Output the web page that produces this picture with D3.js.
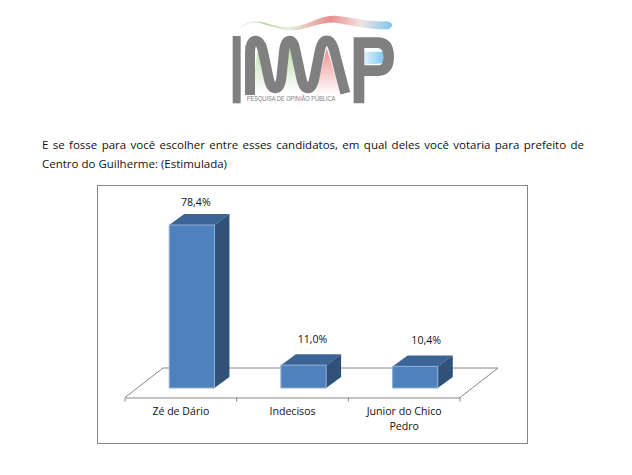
<!DOCTYPE html>
<html lang="pt"><head><meta charset="utf-8">
<script src="https://cdn.jsdelivr.net/npm/d3@7"></script>
<style>html,body{margin:0;padding:0;background:#fff}svg{display:block}</style>
</head><body><div id="c"></div>
<script>
const categories = ["Zé de Dário", "Indecisos", "Junior do Chico Pedro"];
const values = [78.4, 11.0, 10.4];
const valueLabels = ["78,4%", "11,0%", "10,4%"];
const titleLines = ["E se fosse para você escolher entre esses candidatos, em qual deles você votaria para prefeito de", "Centro do Guilherme: (Estimulada)"];
const categoryLines = [["Zé de Dário"], ["Indecisos"], ["Junior do Chico", "Pedro"]];

const W = 632, H = 475;
const svg = d3.select("#c").append("svg").attr("width", W).attr("height", H);
const FONT = "'Open Sans','Noto Sans',sans-serif";
const defs = svg.append("defs");
function grad(id, stops, x1=0,y1=0,x2=1,y2=0){
  const g = defs.append("linearGradient").attr("id",id).attr("x1",x1).attr("y1",y1).attr("x2",x2).attr("y2",y2);
  stops.forEach(s=>g.append("stop").attr("offset",s[0]).attr("stop-color",s[1]).attr("stop-opacity",s[2]===undefined?1:s[2]));
}
grad("sw",[[0,"#cfe5c0",0.2],[0.18,"#b5d8a0"],[0.33,"#e8efe2"],[0.6,"#e88f8c"],[0.8,"#f0e4e2"],[1,"#7fc6ec"]]);
grad("gg",[[0,"#b9dca6"],[1,"#ffffff"]],0,0,0,1);
grad("rr",[[0,"#ec8f8c"],[1,"#ffffff"]],0,0,0,1);
grad("bb",[[0,"#ffffff"],[1,"#7fc8f0"]]);

// logo (drawn in zoomed-crop units)
const logo = svg.append("g").attr("transform","translate(210,0) scale(0.3333)");
logo.append("path").attr("d","M82 92 C100 66 135 60 165 68 C205 80 240 88 285 72 C315 60 345 46 375 47 C420 50 470 66 530 64 Q548 66 546 78 Q540 90 525 88 C470 88 420 74 375 68 C335 66 300 84 265 90 C220 96 175 74 145 68 C120 66 100 76 82 92Z").attr("fill","url(#sw)");
logo.append("path").attr("d","M146 130 L125 280 L190 280 Q165 200 146 130Z").attr("fill","url(#gg)");
logo.append("path").attr("d","M238 135 L210 280 L285 280 Q258 200 238 135Z").attr("fill","url(#gg)");
logo.append("path").attr("d","M350 145 L315 285 L395 285 Q370 210 350 145Z").attr("fill","url(#rr)");
logo.append("path").attr("d","M445 155 L520 155 L520 190 L445 195Z").attr("fill","url(#bb)");
logo.append("rect").attr("x",68).attr("y",108).attr("width",24).attr("height",202).attr("fill","#808080");
logo.append("path").attr("d","M120 285 L120 155 C120 112 150 112 158 150 L176 235 C184 275 208 275 214 235 L222 155 C226 112 250 112 256 150 L274 235 C282 275 305 275 313 235 L330 150 C338 112 362 112 372 150 L406 280")
  .attr("fill","none").attr("stroke","#808080").attr("stroke-width",30);
logo.append("path").attr("d","M447 310 L447 128 L505 128 Q536 130 536 170 Q536 212 505 212 L447 212")
  .attr("fill","none").attr("stroke","#808080").attr("stroke-width",32);
logo.append("text").attr("x",110).attr("y",304).attr("textLength",266).attr("lengthAdjust","spacingAndGlyphs")
  .attr("font-family","'Liberation Sans Narrow','Liberation Sans',sans-serif").attr("font-size",23).attr("fill","#808080").text("PESQUISA DE OPINIÃO PÚBLICA");

// question (first line justified with word spacing)
svg.selectAll("text.q").data(titleLines).join("text").attr("class","q")
  .attr("x",42).attr("y",(d,i)=>149+i*19).attr("font-family",FONT).attr("font-size",11.5).attr("fill","#111")
  .text(d=>d)
  .each(function(d,i){ if(i===0){ const n=d.split(" ").length-1, len=this.getComputedTextLength();
    d3.select(this).attr("word-spacing",(542-len)/n); } });

// chart frame
svg.append("rect").attr("x",97.5).attr("y",185.5).attr("width",430).attr("height",258).attr("fill","#fff").attr("stroke","#868686").attr("stroke-width",1);

const floorFrontY = 397.5, depthX = 38, depthY = 29.5;
const x = d3.scaleBand().domain(categories).range([125,460]).paddingInner(0).paddingOuter(0);
const y = d3.scaleLinear().domain([0,78.4]).range([388,225]);
const barW = x.bandwidth()*0.405, dx = 15, dy = 11, floorShift = 11;
const labelDx = [4, 9, 11], labelDy = [19, 22, 22.5];
const floor = svg.append("g").attr("fill","none").attr("stroke","#868686");
floor.append("path").attr("d",`M125 ${floorFrontY} L${125+depthX} ${floorFrontY-depthY} L${460+depthX} ${floorFrontY-depthY} L460 ${floorFrontY}`);

const axis = svg.append("g").attr("transform",`translate(0,${floorFrontY})`)
  .call(d3.axisBottom(x).tickSize(0).tickPadding(0));
axis.select(".domain").attr("stroke","#868686");
axis.selectAll(".tick line").remove();
axis.selectAll(".tick text").each(function(d,i){
  const t = d3.select(this).text(null).attr("y",0).attr("dy",null).attr("font-family",FONT).attr("font-size",10.6).attr("fill","#111");
  categoryLines[i].forEach((l,j)=>t.append("tspan").attr("x",0).attr("y",17.5+j*15).text(l));
});
const edges = [0,1,2].map(i=>x(categories[i])).concat([x.range()[1]]);
svg.selectAll("line.tk").data(edges).join("line").attr("class","tk")
  .attr("x1",d=>d).attr("x2",d=>d).attr("y1",floorFrontY).attr("y2",floorFrontY+4).attr("stroke","#868686");

const bars = svg.selectAll("g.bar").data(values).join("g").attr("class","bar");
const L = (d,i)=>x(categories[i])+x.bandwidth()/2+floorShift-barW/2;
bars.append("polygon").attr("fill","#3c6494").attr("points",(d,i)=>{const l=L(d,i),t=y(d);return [[l,t],[l+barW,t],[l+barW+dx,t-dy],[l+dx,t-dy]].join(" ")});
bars.append("polygon").attr("fill","#305278").attr("points",(d,i)=>{const l=L(d,i)+barW,t=y(d),b=y(0);return [[l,t],[l+dx,t-dy],[l+dx,b-dy],[l,b]].join(" ")});
bars.append("rect").attr("x",L).attr("y",d=>y(d)).attr("width",barW).attr("height",d=>y(0)-y(d)).attr("fill","#4f81bd").attr("stroke","#8fb0d6").attr("stroke-width",1);
bars.append("text").attr("x",(d,i)=>L(d,i)+barW/2+labelDx[i]).attr("y",(d,i)=>y(d)-labelDy[i]).attr("text-anchor","middle")
  .attr("font-family",FONT).attr("font-size",10.6).attr("fill","#111").text((d,i)=>valueLabels[i]);
</script></body></html>
